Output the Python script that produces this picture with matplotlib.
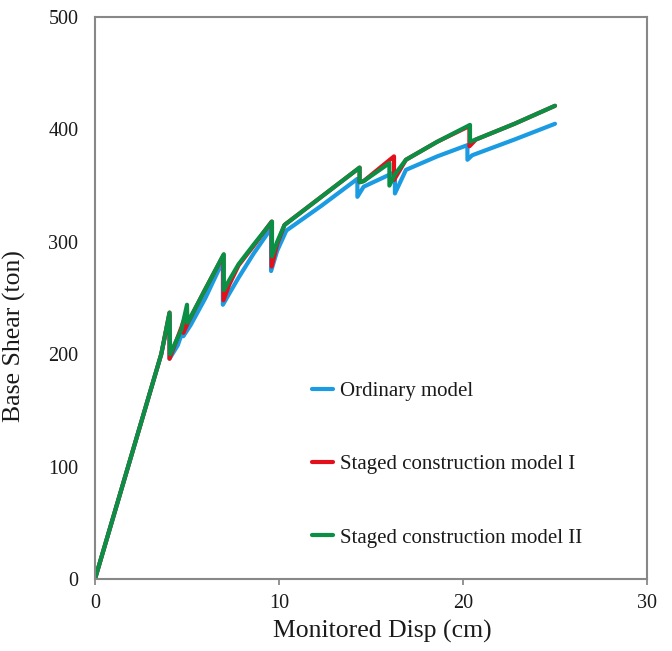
#!/usr/bin/env python3
"""Pushover curves: base shear vs monitored displacement for three models."""

import matplotlib

matplotlib.use("Agg")
import matplotlib.pyplot as plt

plt.rcParams["font.family"] = ["Liberation Serif", "DejaVu Serif"]

# Ordinary model
ordinary_disp = [0, 3.6, 4.05, 4.05, 4.5, 4.8, 4.8, 5.2, 6.0, 6.95, 6.95, 7.3, 7.8, 8.6,
                 9.57, 9.57, 9.9, 10.4, 12.3, 14.26, 14.26, 14.6, 16.3, 16.3, 16.9, 18.6,
                 20.24, 20.24, 20.5, 22.8, 25.0]
ordinary_shear = [0, 200, 235, 196, 208, 222, 216, 226, 250, 283, 244, 254, 268, 289,
                  312, 274, 292, 310, 332, 356, 340, 349, 362, 343, 364, 376,
                  386, 373, 377, 391, 405]

# Staged construction model I
staged1_disp = [0, 3.6, 4.05, 4.05, 4.7, 4.8, 4.8, 5.05, 6.0, 6.98, 6.98, 7.3, 7.8, 8.6,
                9.6, 9.6, 9.9, 10.3, 12.3, 14.38, 14.38, 14.6, 16.25, 16.25, 16.9, 18.6,
                20.35, 20.35, 20.7, 22.8, 25.0]
staged1_shear = [0, 200, 237, 196, 224, 229, 219, 228, 258, 288, 248, 262, 279, 296,
                 318, 278, 298, 315, 340, 366, 353, 354, 376, 355, 373, 389,
                 403, 385, 391, 405, 421]

# Staged construction model II
staged2_disp = [0, 3.6, 4.05, 4.08, 4.7, 5.0, 5.02, 5.1, 6.0, 7.0, 7.0, 7.3, 7.8, 8.6,
                9.62, 9.62, 9.9, 10.3, 12.3, 14.38, 14.38, 14.6, 16.0, 16.0, 16.3, 16.9,
                18.6, 20.38, 20.38, 20.7, 22.8, 25.0]
staged2_shear = [0, 200, 237, 200, 222, 244, 228, 230, 258, 289, 257, 266, 280, 297,
                 318, 287, 300, 315, 340, 366, 353, 354, 370, 350, 360, 373,
                 389, 404, 389, 391, 405, 421]

series = [
    ("Ordinary model", ordinary_disp, ordinary_shear, "#1b9ce2"),
    ("Staged construction model I", staged1_disp, staged1_shear, "#e3101c"),
    ("Staged construction model II", staged2_disp, staged2_shear, "#0a8f45"),
]

fig = plt.figure(figsize=(6.72, 6.51), dpi=100)
ax = fig.add_axes([95 / 672, 1 - 579 / 651, 552 / 672, 562 / 651])

for label, xs, ys, color in series:
    ax.plot(xs, ys, color=color, linewidth=3.0, label=label,
            solid_joinstyle="round", solid_capstyle="round")

ax.set_xlim(0, 30)
ax.set_ylim(0, 500)
ax.set_xticks([0, 10, 20, 30])
ax.set_yticks([0, 100, 200, 300, 400, 500])

text_color = "#1a1a1a"
ax.tick_params(axis="x", direction="out", length=4.5, width=1.2, color="#808080",
               labelsize=14.5, labelcolor=text_color, pad=6)
ax.tick_params(axis="y", length=0, labelsize=14.5, labelcolor=text_color, pad=12)

for spine in ax.spines.values():
    spine.set_color("#888888")
    spine.set_linewidth(1.5)

ax.set_xlabel("Monitored Disp (cm)", fontsize=18.5, color=text_color)
ax.set_ylabel("Base Shear (ton)", fontsize=18.5, color=text_color)
ax.xaxis.set_label_coords(0.52, -0.073)
ax.yaxis.set_label_coords(-0.125, 0.432)

leg = ax.legend(loc="upper left", bbox_to_anchor=(0.393, 0.351), frameon=False,
                fontsize=15, handlelength=1.0, handletextpad=0.35,
                labelspacing=2.57, borderpad=0, borderaxespad=0)
for text in leg.get_texts():
    text.set_color(text_color)

fig.savefig("out.png", dpi=100)
plt.close(fig)
